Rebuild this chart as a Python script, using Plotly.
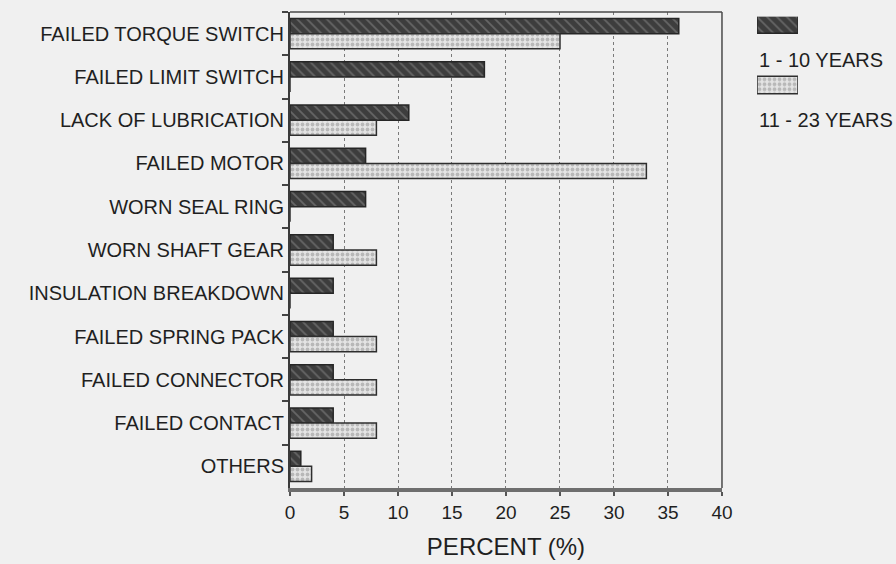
import plotly.graph_objects as go

# Failure causes, listed top to bottom
causes = [
    "FAILED TORQUE SWITCH",
    "FAILED LIMIT SWITCH",
    "LACK OF LUBRICATION",
    "FAILED MOTOR",
    "WORN SEAL RING",
    "WORN SHAFT GEAR",
    "INSULATION BREAKDOWN",
    "FAILED SPRING PACK",
    "FAILED CONNECTOR",
    "FAILED CONTACT",
    "OTHERS",
]

# Share of failures (%) by service age
years_1_10 = [36, 18, 11, 7, 7, 4, 4, 4, 4, 4, 1]
years_11_23 = [25, 0, 8, 33, 0, 8, 0, 8, 8, 8, 2]

series_names = ["1 - 10 YEARS", "11 - 23 YEARS"]
x_ticks = [0, 5, 10, 15, 20, 25, 30, 35, 40]

FONT = "Liberation Sans, Arial, Helvetica, sans-serif"
INK = "#1f1f1f"
BG = "#f0f0f0"

dark_marker = dict(
    color="#3d3d3d",
    line=dict(color="#262626", width=1.5),
    pattern=dict(shape="\\", fgcolor="#8f8f8f", size=7, solidity=0.25),
)
light_marker = dict(
    color="#e4e4e4",
    line=dict(color="#2e2e2e", width=1.5),
    pattern=dict(shape=".", fgcolor="#8c8c8c", size=5, solidity=0.45),
)

fig = go.Figure()
fig.add_trace(go.Bar(
    y=causes, x=years_1_10, orientation="h", name=series_names[0],
    marker=dark_marker, xaxis="x", yaxis="y",
))
fig.add_trace(go.Bar(
    y=causes, x=years_11_23, orientation="h", name=series_names[1],
    marker=light_marker, xaxis="x", yaxis="y",
))

# Key swatches: one full-width bar per series on a small helper axis
fig.add_trace(go.Bar(
    y=[series_names[0]], x=[1], orientation="h", marker=dark_marker,
    xaxis="x2", yaxis="y2", width=0.29, showlegend=False, hoverinfo="skip",
))
fig.add_trace(go.Bar(
    y=[series_names[1]], x=[1], orientation="h", marker=light_marker,
    xaxis="x2", yaxis="y2", width=0.29, showlegend=False, hoverinfo="skip",
))

fig.update_layout(
    width=896, height=564,
    margin=dict(l=290, r=10, t=12, b=76, autoexpand=False),
    paper_bgcolor=BG,
    plot_bgcolor=BG,
    font=dict(family=FONT, color=INK),
    barmode="group",
    bargap=0.3,
    bargroupgap=0,
    showlegend=False,
    xaxis=dict(
        domain=[0, 0.7248],
        range=[0, 40],
        tickvals=x_ticks,
        ticktext=[str(v) for v in x_ticks],
        tickfont=dict(size=19),
        ticks="outside", ticklen=4, tickcolor="#555", tickwidth=1.5,
        showgrid=True, gridcolor="#7a7a7a", griddash="dot", gridwidth=1.2,
        showline=True, linecolor="#6e6e6e", linewidth=4, mirror=False,
        zeroline=False, automargin=False,
        title=dict(text="PERCENT (%)", font=dict(size=24), standoff=17),
    ),
    yaxis=dict(
        categoryorder="array", categoryarray=causes,
        autorange="reversed",
        tickson="boundaries",
        ticks="outside", ticklen=6, tickcolor="#444", tickwidth=1.5,
        tickfont=dict(size=20),
        showline=True, linecolor="#3a3a3a", linewidth=2, mirror=False,
        showgrid=False, automargin=False,
    ),
    xaxis2=dict(
        domain=[0.7836, 0.8523], range=[0, 1], anchor="y2",
        visible=False, fixedrange=True,
    ),
    yaxis2=dict(
        domain=[0.78, 0.99], anchor="x2",
        categoryorder="array", categoryarray=series_names,
        range=[1.524, -0.127], visible=False, fixedrange=True,
    ),
    shapes=[
        # top and right edges of the plotting frame
        dict(type="line", xref="x domain", yref="y domain", x0=0, x1=1, y0=1, y1=1,
             line=dict(color="#4a4a4a", width=1.5)),
        dict(type="line", xref="x domain", yref="y domain", x0=1, x1=1, y0=0, y1=1,
             line=dict(color="#4a4a4a", width=1.5)),
    ],
)

# Key labels below each swatch
fig.add_annotation(
    x=0.7836, y=0.899, xref="paper", yref="paper", xanchor="left", yanchor="middle",
    text=series_names[0], showarrow=False, font=dict(size=20, family=FONT, color=INK),
)
fig.add_annotation(
    x=0.7836, y=0.773, xref="paper", yref="paper", xanchor="left", yanchor="middle",
    text=series_names[1], showarrow=False, font=dict(size=20, family=FONT, color=INK),
)

fig.write_html("out.html")
